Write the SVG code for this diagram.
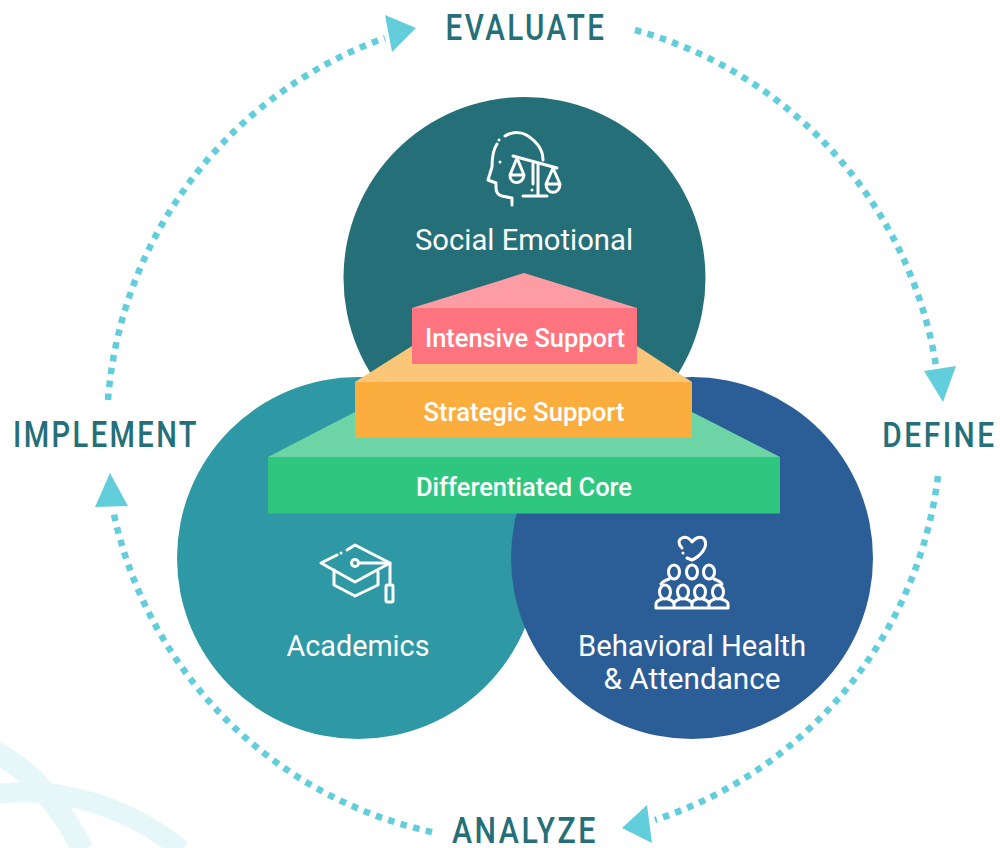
<svg xmlns="http://www.w3.org/2000/svg" width="1000" height="848" viewBox="0 0 1000 848">
<style>
.f{font-family:"Roboto","Liberation Sans",sans-serif;font-weight:500;fill:#fff;text-anchor:middle}
.c{font-size:29px;font-weight:400}
.p{font-size:26px;font-weight:500}
.l{font-family:"Roboto","Liberation Sans",sans-serif;font-size:36px;font-weight:500;fill:#256f78;text-anchor:middle;letter-spacing:3px}
.dot{fill:none;stroke:#62cddb;stroke-width:6.500;stroke-dasharray:6.500 6.500}
.h{fill:#62cddb}
.i{fill:none;stroke:#fff;stroke-width:3;stroke-linecap:round;stroke-linejoin:round}
</style>
<rect width="1000" height="848" fill="#fff"/>
<g id="watermark" fill="none" stroke="#e6f7f9">
<path stroke-width="22" d="M-5 752C30 770 60 805 83 850"/>
<path stroke-width="20" d="M-5 794C60 786 125 805 182 850"/>
</g>
<g id="connectors">
<path class="dot" d="M635 30A418 418 0 0 1 937 372"/>
<path class="dot" d="M938 476A416 416 0 0 1 655 820"/>
<path class="dot" d="M432 832A416 416 0 0 1 113 510"/>
<path class="dot" d="M108 400A418 418 0 0 1 385 38"/>
<polygon class="h" points="924,371 956,366 943,402"/>
<polygon class="h" points="647,805 652,843 622,828"/>
<polygon class="h" points="110,473 128,506 95,507"/>
<polygon class="h" points="416,28 385,15 392,52"/>
</g>
<g id="social-emotional">
<circle cx="524.500" cy="278" r="181" fill="#256f78"/>
<g class="i">
<path d="M505 136C513 131 522 132 528 136C537 142 543 150 543 160M497 144C493 150 492 158 492 167L488 180L496 183V188C496 193 498 195 502 196L512 198V205"/>
<path d="M513 156L557 168M533 164V184M538 163V196M523 196H547"/>
<path d="M517 158L510 175C510 185 523 185 524 175L517 158ZM510 175H524M553 168L546 184C546 195 560 195 560 184L553 168ZM546 184H560"/>
<path d="M499 140V140M500 162V162M532 190V190"/>
</g>
<text class="f c" x="524" y="250" textLength="218" lengthAdjust="spacingAndGlyphs">Social Emotional</text>
</g>
<g id="academics">
<circle cx="358" cy="558" r="181" fill="#2e98a5"/>
<g class="i">
<path d="M347 550L355 545L390 563L355 582L321 563L337 555M341 553V553"/>
<path d="M334 570V585L355 596L378 585V572"/>
<circle cx="355" cy="563" r="3.500"/>
<path d="M359 563H390V583"/>
<rect x="386" y="585" width="7" height="17" rx="1.500"/>
</g>
<text class="f c" x="358" y="656" textLength="143" lengthAdjust="spacingAndGlyphs">Academics</text>
</g>
<g id="behavioral-health">
<circle cx="692" cy="558" r="181" fill="#2b5e97"/>
<g class="i">
<path d="M682 548C678 544 678 540 682 538C686 536 690 539 692 542C695 538 700 536 703 538C707 541 706 547 703 551C700 555 697 558 692 560L687 558M683 553V553"/>
<ellipse cx="674" cy="572" rx="5.500" ry="7"/><ellipse cx="692" cy="572" rx="5.500" ry="7"/><ellipse cx="709" cy="572" rx="5.500" ry="7"/>
<ellipse cx="665" cy="592" rx="5.500" ry="7"/><ellipse cx="683" cy="592" rx="5.500" ry="7"/><ellipse cx="700" cy="592" rx="5.500" ry="7"/><ellipse cx="718" cy="592" rx="5.500" ry="7"/>
<path d="M661 584C663 581 666 580 669 579M714 579C717 580 720 581 722 584"/>
<path d="M656 608V604C656 601 659 600 662 599M668 599C671 600 674 601 674 604V608M674 604C674 601 677 600 680 599M686 599C689 600 692 601 692 604V608M692 604C692 601 694 600 697 599M703 599C706 600 709 601 709 604V608M709 604C709 601 712 600 715 599M721 599C724 600 728 601 728 604V608M656 608H728"/>
</g>
<text class="f c" x="692" y="656" textLength="228" lengthAdjust="spacingAndGlyphs">Behavioral Health</text>
<text class="f c" x="692" y="689" textLength="177" lengthAdjust="spacingAndGlyphs">&amp; Attendance</text>
</g>
<g id="differentiated-core">
<polygon points="268,457 355,412 692,412 780,457" fill="#6dd5a5"/>
<rect x="268" y="457" width="512" height="56.500" fill="#2fc77f"/>
<text class="f p" x="524" y="496" textLength="216" lengthAdjust="spacingAndGlyphs">Differentiated Core</text>
</g>
<g id="strategic-support">
<polygon points="355,382 412,346 637,346 692,382" fill="#fcc679"/>
<rect x="355" y="382" width="337" height="56" fill="#fbae3e"/>
<text class="f p" x="524" y="421" textLength="201" lengthAdjust="spacingAndGlyphs">Strategic Support</text>
</g>
<g id="intensive-support">
<polygon points="412,308 524,273 637,308" fill="#fe9ca3"/>
<rect x="412" y="308" width="225" height="56" fill="#ff747e"/>
<text class="f p" x="525" y="347" textLength="200" lengthAdjust="spacingAndGlyphs">Intensive Support</text>
</g>
<g id="labels">
<text class="l" x="526" y="40" textLength="161" lengthAdjust="spacingAndGlyphs">EVALUATE</text>
<text class="l" transform="translate(939.500 447) scale(.83 1)" x="0" y="0">DEFINE</text>
<text class="l" x="525" y="843" textLength="146" lengthAdjust="spacingAndGlyphs">ANALYZE</text>
<text class="l" x="106" y="447" textLength="186" lengthAdjust="spacingAndGlyphs">IMPLEMENT</text>
</g>
</svg>
